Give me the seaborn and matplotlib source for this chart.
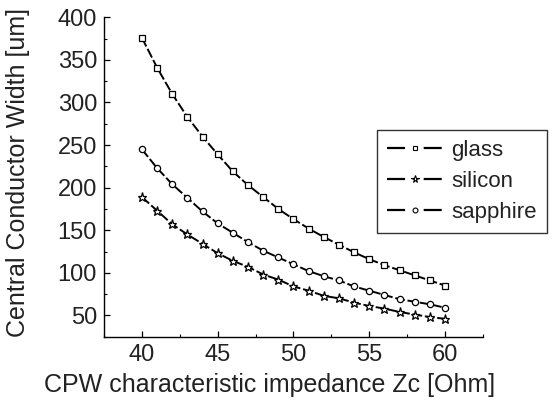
import numpy as np
import pandas as pd
import matplotlib
matplotlib.use("Agg")
import matplotlib.pyplot as plt
from matplotlib.lines import Line2D
from matplotlib.ticker import MultipleLocator
import seaborn as sns

impedance = list(range(40, 61))

glass = [376, 341, 310, 283, 260, 239, 219, 203, 189, 175, 163,
         152, 142, 133, 124, 116, 109, 103, 97, 91, 85]
silicon = [189, 173, 157, 145, 134, 123, 114, 107, 98, 92, 84,
           79, 73, 70, 65, 61, 58, 54, 51, 48, 46]
sapphire = [245, 223, 204, 188, 172, 158, 147, 136, 126, 118, 110,
            102, 96, 91, 84, 79, 74, 69, 66, 63, 59]

substrates = ["glass", "silicon", "sapphire"]
marker_map = {"glass": "s", "silicon": "*", "sapphire": "o"}
marker_size = {"glass": 4.5, "silicon": 6.5, "sapphire": 4.5}

df = pd.DataFrame({
    "Zc": impedance * 3,
    "width": glass + silicon + sapphire,
    "substrate": np.repeat(substrates, len(impedance)),
})

sns.set_style("ticks")
plt.rcParams["font.family"] = ["Liberation Sans", "DejaVu Sans"]
plt.rcParams["lines.scale_dashes"] = False

fig = plt.figure(figsize=(5.54, 4.09), dpi=100)
ax = fig.add_axes([0.1877, 0.1768, 0.6841, 0.7809])

for sub in substrates:
    sns.lineplot(
        data=df[df["substrate"] == sub], x="Zc", y="width",
        color="black", linewidth=1.4, marker=marker_map[sub],
        markersize=marker_size[sub], markerfacecolor="white",
        markeredgecolor="black", markeredgewidth=0.9,
        dashes=(7, 2), ax=ax, legend=False,
    )

ax.set_xlim(37.5, 62.5)
ax.set_ylim(25, 400)
ax.xaxis.set_major_locator(MultipleLocator(5))
ax.xaxis.set_minor_locator(MultipleLocator(2.5))
ax.yaxis.set_minor_locator(MultipleLocator(25))
ax.set_yticks([50, 100, 150, 200, 250, 300, 350, 400])

for s in ["top", "right"]:
    ax.spines[s].set_visible(False)
for s in ["left", "bottom"]:
    ax.spines[s].set_color("black")
    ax.spines[s].set_linewidth(1.0)

ax.tick_params(which="major", direction="in", length=4, width=0.9,
               labelsize=17, colors="black", labelcolor="#222222", pad=5)
ax.tick_params(which="minor", direction="in", length=2.5, width=0.8,
               colors="black")

ax.set_xlabel("CPW characteristic impedance Zc [Ohm]", fontsize=18,
              color="#222222")
ax.set_ylabel("Central Conductor Width [um]", fontsize=18,
              color="#222222")
# the original labels sit a little off-centre
ax.xaxis.set_label_coords(0.437, -0.115)
ax.yaxis.set_label_coords(-0.195, 0.515)

handles = [
    Line2D([], [], color="black", linewidth=1.6, dashes=(13, 13.4),
           marker=marker_map[s], markersize=marker_size[s] - 1,
           markerfacecolor="white", markeredgecolor="black",
           markeredgewidth=0.8)
    for s in substrates
]
leg = ax.legend(handles, substrates, loc="upper left",
                bbox_to_anchor=(377 / 554, 1 - 130 / 409),
                bbox_transform=fig.transFigure, fontsize=16,
                frameon=True, fancybox=False, numpoints=1,
                handlelength=2.5, handletextpad=0.4, borderpad=0.45,
                labelspacing=0.45, borderaxespad=0)
leg.get_frame().set_edgecolor("black")
leg.get_frame().set_linewidth(1.0)
for t in leg.get_texts():
    t.set_color("#222222")

fig.savefig("out.png", dpi=100)
